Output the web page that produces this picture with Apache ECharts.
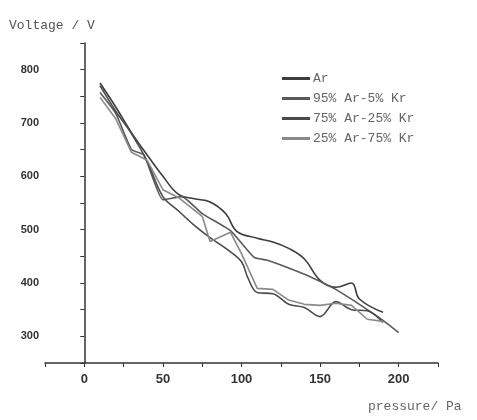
<!DOCTYPE html>
<html><head><meta charset="utf-8">
<script src="https://cdn.jsdelivr.net/npm/echarts@6/dist/echarts.min.js"></script>
<style>html,body{margin:0;padding:0;background:#fff}#c{width:477px;height:420px}</style>
</head><body><div id="c"></div>
<script>
const seriesNames = ['Ar', '95% Ar-5% Kr', '75% Ar-25% Kr', '25% Ar-75% Kr'];
const arData = [[10,775],[20,730],[30,682],[40,640],[50,600],[60,566],[70,558],[80,552],[90,530],[97,497],[110,484],[120,477],[130,465],[140,445],[150,405],[160,392],[170,400],[175,370],[190,345]];
const ar95Data = [[10,757],[20,718],[30,650],[38,640],[50,556],[62,562],[75,530],[93,498],[108,448],[116,443],[130,428],[145,410],[160,388],[175,360],[190,330],[200,307]];
const ar75Data = [[10,770],[20,722],[30,680],[40,628],[50,562],[60,535],[70,508],[80,485],[90,465],[100,440],[104,410],[110,382],[120,380],[130,360],[140,354],[150,337],[160,365],[170,350],[180,348],[190,326]];
const ar25Data = [[10,748],[20,708],[30,645],[40,630],[50,575],[60,560],[75,525],[80,478],[93,495],[100,455],[110,390],[120,388],[130,368],[140,360],[150,358],[160,362],[170,358],[180,332],[190,328]];
const xTicks = [0, 50, 100, 150, 200];
const yTicks = [300, 400, 500, 600, 700, 800];

const colors = ['#3c3c3c', '#5a5a5a', '#4a4a4a', '#8a8a8a'];
const datas = [arData, ar95Data, ar75Data, ar25Data];
const smooths = [0.4, 0.15, 0.35, 0];

const chart = echarts.init(document.getElementById('c'));
chart.setOption({
  animation: false,
  backgroundColor: '#fff',
  grid: {left: 45, right: 39, top: 43, bottom: 57},
  legend: {
    orient: 'vertical', left: 277, top: 67, itemWidth: 28, itemHeight: 3, itemGap: 7,
    icon: 'rect',
    textStyle: {fontFamily: 'Liberation Mono', fontSize: 13, color: '#666', padding: [0,0,0,-2]},
    data: seriesNames
  },
  graphic: [
    {type: 'text', left: 9, top: 19, style: {text: 'Voltage / V', font: '13px "Liberation Mono"', fill: '#555'}},
    {type: 'text', left: 368, top: 400, style: {text: 'pressure/ Pa', font: '13px "Liberation Mono"', fill: '#666'}}
  ],
  xAxis: {
    type: 'value', min: -25, max: 225, interval: 25,
    axisLine: {lineStyle: {color: '#333', width: 1.5}},
    axisTick: {length: 4, lineStyle: {color: '#333'}},
    splitLine: {show: false},
    axisLabel: {
      margin: 10, color: '#333', fontWeight: 'bold', fontSize: 13, fontFamily: 'Liberation Sans',
      formatter: v => xTicks.includes(v) ? String(v) : ''
    }
  },
  yAxis: {
    type: 'value', min: 250, max: 850, interval: 50,
    axisLine: {show: true, lineStyle: {color: '#333', width: 1.5}},
    axisTick: {show: true, length: 4, lineStyle: {color: '#333'}},
    splitLine: {show: false},
    axisLabel: {
      margin: 6, color: '#333', fontWeight: 'bold', fontSize: 11, fontFamily: 'Liberation Sans',
      formatter: v => yTicks.includes(v) ? String(v) : ''
    }
  },
  series: seriesNames.map((n, i) => ({
    name: n, type: 'line', data: datas[i], symbol: 'none', smooth: smooths[i],
    lineStyle: {color: colors[i], width: 1.6}, itemStyle: {color: colors[i]}
  }))
});
</script></body></html>
